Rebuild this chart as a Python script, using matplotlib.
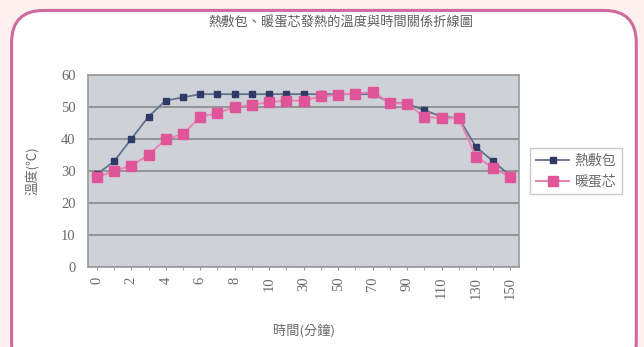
import matplotlib.pyplot as plt
from matplotlib.patches import FancyBboxPatch

# categories (minutes) and readings
minutes = [0, 1, 2, 3, 4, 5, 6, 7, 8, 9, 10, 20, 30, 40, 50, 60, 70,
           80, 90, 100, 110, 120, 130, 140, 150]
heat_pack = [29, 33, 40, 47, 52, 53, 54, 54, 54, 54, 54, 54, 54, 54, 54,
             54, 54, 51.5, 51, 49, 47, 46.5, 37.5, 33, 28.5]
warm_egg = [28, 30, 31.7, 35, 40, 41.5, 47, 48, 50, 50.7, 51.5, 52, 52,
            53.3, 53.8, 54.2, 54.7, 51.3, 51, 47, 46.5, 46.5, 34.5, 31, 28]
series_names = ["熱敷包", "暖蛋芯"]

cjk = ["Noto Sans CJK TC", "DejaVu Sans"]
txt_col = "#6a6a6a"

fig = plt.figure(figsize=(6.44, 3.47), dpi=100)
fig.patch.set_facecolor("#fdf1f0")

# rounded white frame
frame = FancyBboxPatch((0.018, -0.08), 0.970, 1.05,
                       boxstyle="round,pad=0,rounding_size=0.05",
                       transform=fig.transFigure, facecolor="white",
                       edgecolor="#cf6a9c", linewidth=2.2, zorder=-5,
                       mutation_aspect=644 / 347)
fig.patches.append(frame)

ax = fig.add_axes([0.137, 0.2305, 0.669, 0.5535])
ax.set_zorder(2)
ax.set_facecolor("#ced1d7")

x = list(range(len(minutes)))
ax.plot(x, heat_pack, color="#5f7290", lw=1.3, marker="s", ms=3.8,
        mfc="#2f3b66", mec="#2f3b66", label=series_names[0], zorder=3)
ax.plot(x, warm_egg, color="#e884b3", lw=1.4, marker="s", ms=7,
        mfc="#e0559a", mec="#e0559a", label=series_names[1], zorder=4)

ax.set_xlim(-0.5, len(minutes) - 0.5)
ax.set_ylim(0, 60)
ax.set_yticks(range(0, 61, 10))
ax.yaxis.grid(True, color="#8a8a8a", lw=1.2)
ax.set_axisbelow(True)

ax.set_xticks(x[::2])
ax.set_xticklabels([str(m) for m in minutes[::2]], rotation=90)
ax.set_xticks(x, minor=True)
ax.tick_params(axis="x", which="both", length=2, color="#999999", pad=5)
ax.tick_params(axis="y", length=0, pad=9)
for lab in ax.get_xticklabels() + ax.get_yticklabels():
    lab.set_fontfamily("Liberation Serif")
    lab.set_fontsize(10.5)
    lab.set_color(txt_col)

for s in ax.spines.values():
    s.set_color("#9a9a9a")
    s.set_linewidth(1.2)

ax.set_ylabel("溫度(℃)", family=cjk, fontsize=9.5, color=txt_col, labelpad=16)
ax.set_xlabel("時間(分鐘)", family=cjk, fontsize=9.5, color=txt_col, labelpad=18)
fig.text(0.53, 0.935, "熱敷包、暖蛋芯發熱的溫度與時間關係折線圖", family=cjk,
         fontsize=9.5, color="#5e5e5e", ha="center", va="center")

leg = ax.legend(loc="center left", bbox_to_anchor=(1.01, 0.5),
                prop={"family": cjk, "size": 10}, frameon=True,
                fancybox=False, edgecolor="#bbbbbb", handlelength=2.4,
                borderpad=0.4, labelspacing=0.5, handletextpad=0.4)
for t in leg.get_texts():
    t.set_color(txt_col)

fig.savefig("out.png", dpi=100)
